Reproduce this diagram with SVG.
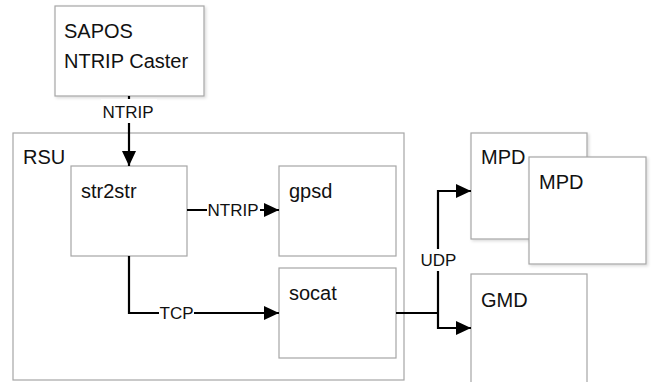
<svg xmlns="http://www.w3.org/2000/svg" width="652" height="382" viewBox="0 0 652 382">
<style>
.box{fill:#fff;stroke:#a6a6a6;stroke-width:1.2}
.t{font-family:"Liberation Sans",Arial,sans-serif;font-size:20px;fill:#111}
.l{font-family:"Liberation Sans",Arial,sans-serif;font-size:17px;fill:#111}
.c{fill:none;stroke:#000;stroke-width:2.2}
.lb{fill:#fff}
</style>
<defs>
<marker id="a" viewBox="0 0 10 10" refX="10" refY="5" markerWidth="15" markerHeight="14" markerUnits="userSpaceOnUse" orient="auto" preserveAspectRatio="none">
<path d="M0,0L10,5L0,10z" fill="#000"/>
</marker>
<filter id="s" x="-10%" y="-10%" width="130%" height="130%">
<feDropShadow dx="1.5" dy="1.5" stdDeviation="1.5" flood-color="#000" flood-opacity="0.15"/>
</filter>
</defs>
<g id="sapos"><rect class="box" x="55" y="6" width="149" height="90" filter="url(#s)"/><text class="t" x="64" y="38">SAPOS</text><text class="t" x="64" y="68">NTRIP Caster</text></g>
<g id="rsu"><rect class="box" x="13" y="133" width="391" height="247"/><text class="t" x="23" y="164">RSU</text></g>
<g id="str2str"><rect class="box" x="71" y="166" width="116" height="90"/><text class="t" x="81" y="198">str2str</text></g>
<g id="gpsd"><rect class="box" x="279" y="166" width="117" height="90"/><text class="t" x="289" y="198">gpsd</text></g>
<g id="socat"><rect class="box" x="279" y="268" width="117" height="90"/><text class="t" x="289" y="300">socat</text></g>
<g id="mpd1"><rect class="box" x="471" y="133" width="116" height="106" filter="url(#s)"/><text class="t" x="481" y="164">MPD</text></g>
<g id="mpd2"><rect class="box" x="529" y="157" width="117" height="107" filter="url(#s)"/><text class="t" x="539" y="189">MPD</text></g>
<g id="gmd"><rect class="box" x="471" y="274" width="116" height="110"/><text class="t" x="481" y="307">GMD</text></g>
<g id="connectors">
<path class="c" d="M129,96V166" marker-end="url(#a)"/>
<rect class="lb" x="101" y="99" width="56" height="24"/><text class="l" x="128" y="118" text-anchor="middle">NTRIP</text>
<path class="c" d="M187,210H279" marker-end="url(#a)"/>
<rect class="lb" x="207" y="199" width="53" height="22"/><text class="l" x="233" y="216" text-anchor="middle">NTRIP</text>
<path class="c" d="M129,256V313H279" marker-end="url(#a)"/>
<rect class="lb" x="159" y="302" width="35" height="22"/><text class="l" x="176.5" y="319" text-anchor="middle">TCP</text>
<path class="c" d="M396,313H438"/>
<path class="c" d="M438,313V191H471" marker-end="url(#a)"/>
<path class="c" d="M438,313V328H471" marker-end="url(#a)"/>
<rect class="lb" x="421" y="249" width="35" height="22"/><text class="l" x="438.5" y="266" text-anchor="middle" font-size="16">UDP</text>
</g>
</svg>
